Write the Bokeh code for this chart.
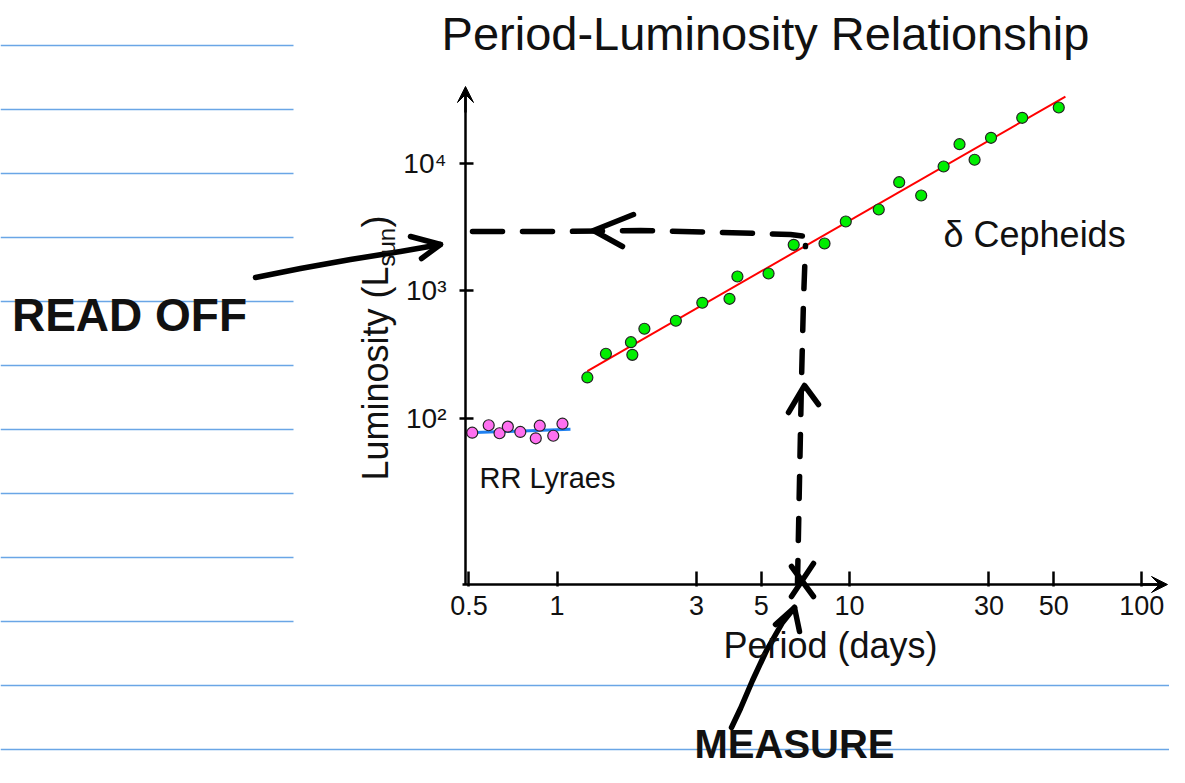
import math
from bokeh.plotting import figure
from bokeh.models import Range1d, LinearScale, FixedTicker, Label, Arrow, VeeHead
from bokeh.embed import file_html
from bokeh.resources import INLINE

# ---------------- data ----------------
cepheid_period = [1.27, 1.47, 1.79, 1.81, 1.99, 2.55, 3.14, 3.89, 4.14, 5.29, 6.45,
                  8.22, 9.72, 12.6, 14.8, 17.6, 21.0, 23.8, 26.8, 30.5, 39.0, 52.0]
cepheid_lum = [208, 319, 393, 313, 501, 579, 801, 861, 1288, 1359, 2282,
               2337, 3477, 4318, 7068, 5559, 9387, 14044, 10600, 15760, 22620, 27250]
cepheid_fit_period = [1.27, 54.8]
cepheid_fit_lum = [233, 33200]

rr_period = [0.513, 0.584, 0.636, 0.679, 0.749, 0.846, 0.873, 0.971, 1.044]
rr_lum = [76.7, 87.7, 75.9, 85.5, 77.7, 69.3, 87.0, 72.6, 90.2]
rr_fit_period = [0.498, 1.112]
rr_fit_lum = [76.7, 81.5]

x_tick_values = [0.5, 1, 3, 5, 10, 30, 50, 100]
x_tick_labels = ["0.5", "1", "3", "5", "10", "30", "50", "100"]
y_tick_values = [100, 1000, 10000]
y_tick_labels = ["10\u00b2", "10\u00b3", "10\u2074"]

title_text = "Period-Luminosity Relationship"
x_label_text = "Period (days)"
y_label_main = "Luminosity (L"
y_label_sub = "sun"
cepheid_name = "\u03b4 Cepheids"
rr_name = "RR Lyraes"
note_read = "READ OFF"
note_measure = "MEASURE"

# ---------------- layout calibration (picture pixels) ----------------
W, H, M = 1169, 767, 0
X_ONE, X_DEC = 556.5, 292.4       # picture x of period 1, px per decade
Y_THOU, Y_DEC = 290.0, 127.5      # picture y of luminosity 1000, px per decade
MID = 0.3465                      # text-box middle above the baseline, in em


def period_at(px):
    return 10 ** ((px - X_ONE) / X_DEC)


def lum_at(py):
    return 10 ** (3 + (Y_THOU - py) / Y_DEC)


FONT = "Liberation Sans"

p = figure(width=W, height=H, x_axis_type="log", y_axis_type="log",
           x_range=Range1d(period_at(M), period_at(M + W)),
           y_range=Range1d(lum_at(M + H), lum_at(M)),
           output_backend="svg", toolbar_location=None, min_border=0, title=None)
p.extra_x_ranges = {"px": Range1d(M, M + W)}
p.extra_y_ranges = {"px": Range1d(M + H, M)}
p.extra_x_scales = {"px": LinearScale()}
p.extra_y_scales = {"px": LinearScale()}
p.grid.visible = False
p.outline_line_color = None
p.background_fill_color = "white"
p.border_fill_color = "white"

# ---------------- notebook ruling ----------------
short_rules = [45, 109, 173, 237, 301, 365, 429, 493, 557, 621]
full_rules = [685, 749]
p.segment(x0=[M] * len(short_rules), y0=short_rules, x1=[293] * len(short_rules), y1=short_rules,
          line_color="#6aa6e6", line_width=1.6, x_range_name="px", y_range_name="px")
p.segment(x0=[M] * len(full_rules), y0=full_rules, x1=[M + W] * len(full_rules), y1=full_rules,
          line_color="#6aa6e6", line_width=1.6, x_range_name="px", y_range_name="px")

# ---------------- axes ----------------
y_axis_at = period_at(465)
x_axis_at = lum_at(584)

xa = p.xaxis[0]
xa.fixed_location = x_axis_at
xa.bounds = (period_at(462), period_at(1158))
xa.ticker = FixedTicker(ticks=x_tick_values, minor_ticks=[])
xa.major_label_overrides = dict(zip(x_tick_values, x_tick_labels))
ya = p.yaxis[0]
ya.fixed_location = y_axis_at
ya.bounds = (x_axis_at, lum_at(92))
ya.ticker = FixedTicker(ticks=y_tick_values, minor_ticks=[])
ya.major_label_overrides = dict(zip(y_tick_values, y_tick_labels))
for ax in (xa, ya):
    ax.axis_line_color = "black"
    ax.axis_line_width = 2.5
    ax.major_tick_line_color = "black"
    ax.major_tick_line_width = 2.5
    ax.minor_tick_line_color = None
    ax.major_label_text_font = FONT
    ax.major_label_text_font_size = "27px"
    ax.major_label_text_color = "#111111"
xa.major_tick_in = 13
xa.major_tick_out = 2
xa.major_label_standoff = 9
ya.major_tick_in = 8
ya.major_tick_out = 6
ya.major_label_standoff = 13
ya.major_label_text_font_size = "28px"

p.add_layout(Arrow(end=VeeHead(size=16, fill_color="black", line_color="black"),
                   x_start=y_axis_at, y_start=lum_at(112), x_end=y_axis_at, y_end=lum_at(86),
                   line_color="black", line_width=2.5))
p.add_layout(Arrow(end=VeeHead(size=16, fill_color="black", line_color="black"),
                   x_start=period_at(1140), y_start=x_axis_at, x_end=period_at(1167), y_end=x_axis_at,
                   line_color="black", line_width=2.5))

# ---------------- data marks ----------------
p.line(rr_fit_period, rr_fit_lum, line_color="#1f80f0", line_width=3)
p.line(cepheid_fit_period, cepheid_fit_lum, line_color="#ff0000", line_width=2)
p.scatter(rr_period, rr_lum, size=11, fill_color="#ff70f0", line_color="#222222", line_width=1.2)
p.scatter(cepheid_period, cepheid_lum, size=11, fill_color="#00ee00", line_color="#222222", line_width=1.2)


# ---------------- printed texts (x, y = start / centre of the baseline) ----------------
def label(x, y, text, size_px, align="left", angle=0, style="normal"):
    shift = MID * size_px
    if angle == 90:
        x = x - shift
    else:
        y = y - shift
    p.add_layout(Label(x=x, y=y, text=text, text_font=FONT, text_font_size=f"{size_px}px",
                       text_font_style=style, text_align=align, text_baseline="middle",
                       text_color="#111111", angle=angle, angle_units="deg",
                       x_range_name="px", y_range_name="px"))


label(765, 49, title_text, 47, align="center")
label(830, 657, x_label_text, 36, align="center")
label(943, 246, cepheid_name, 36)
label(479, 488, rr_name, 29)
label(387, 480, y_label_main, 36, angle=90)
label(394, 266, y_label_sub, 24, angle=90)
label(387, 227, ")", 36, angle=90)

# ---------------- hand-drawn notes ----------------
ink = dict(line_color="black", line_cap="round", line_join="round",
           x_range_name="px", y_range_name="px")
p.line([472, 560, 640, 720, 760, 790, 805], [231, 231, 230, 232, 233, 234, 236],
       line_width=5.5, line_dash="30 20", **ink)
p.line([797, 799, 801, 803, 805], [582, 480, 380, 300, 245],
       line_width=5.5, line_dash="22 20", **ink)
p.multi_line(
    xs=[[255, 300, 350, 400, 440], [410, 440, 421],
        [633, 593, 622], [788, 804, 818],
        [791, 813], [813, 791],
        [731, 740, 752, 766, 782, 794], [775, 794, 799]],
    ys=[[277, 268, 259, 251, 244], [236, 244, 258],
        [214, 230, 246], [412, 385, 404],
        [566, 596], [563, 596],
        [727, 708, 680, 650, 622, 607], [624, 607, 631]],
    line_width=5.5, **ink)
label(129, 330, note_read, 46, align="center", style="bold")
label(794, 757, note_measure, 40, align="center", style="bold")

open("out.html", "w").write(file_html(p, INLINE))
